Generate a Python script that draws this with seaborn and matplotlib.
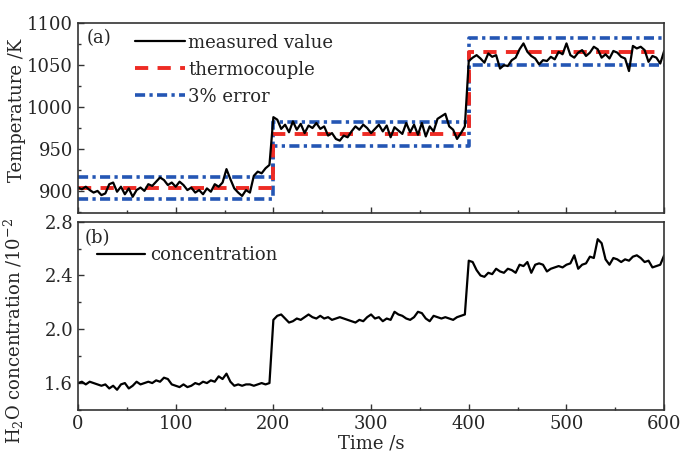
import numpy as np
import matplotlib
matplotlib.use("Agg")
import matplotlib.pyplot as plt
from matplotlib.ticker import MultipleLocator
import seaborn as sns

# sampling times of the measured series (s)
time_s = np.arange(0, 601, 4)

# measured temperature (K), three set points
temp_seg1 = [904, 902, 905, 901, 898, 900, 895, 897, 908, 910,
             899, 905, 896, 903, 893, 901, 904, 900, 908, 906,
             911, 916, 913, 907, 910, 905, 911, 907, 901, 904,
             898, 901, 896, 903, 899, 908, 905, 910, 926, 914,
             903, 898, 894, 901, 898, 918, 923, 921, 927, 931]
temp_seg2 = [988, 985, 974, 979, 970, 983, 973, 980, 969, 978,
             975, 981, 974, 977, 966, 969, 962, 960, 966, 964,
             971, 977, 973, 979, 975, 969, 974, 979, 971, 978,
             964, 976, 972, 968, 981, 970, 979, 967, 981, 965,
             977, 971, 986, 989, 992, 977, 973, 962, 969, 977]
temp_seg3 = [1055, 1059, 1062, 1058, 1053, 1064, 1060, 1062, 1046, 1050,
             1049, 1056, 1059, 1069, 1076, 1066, 1061, 1058, 1051, 1056,
             1055, 1060, 1057, 1066, 1063, 1076, 1062, 1059, 1065, 1068,
             1061, 1065, 1072, 1069, 1059, 1063, 1058, 1067, 1065, 1060,
             1058, 1043, 1073, 1070, 1072, 1068, 1054, 1061, 1059, 1052, 1067]

# H2O concentration (1e-2)
conc_seg1 = [1.60, 1.61, 1.59, 1.61, 1.60, 1.59, 1.58, 1.59, 1.56, 1.58,
             1.55, 1.59, 1.60, 1.56, 1.58, 1.61, 1.59, 1.60, 1.61, 1.60,
             1.62, 1.61, 1.64, 1.63, 1.59, 1.58, 1.57, 1.59, 1.57, 1.58,
             1.60, 1.59, 1.61, 1.60, 1.62, 1.61, 1.65, 1.63, 1.67, 1.61,
             1.58, 1.59, 1.58, 1.59, 1.59, 1.58, 1.59, 1.60, 1.59, 1.60]
conc_seg2 = [2.07, 2.10, 2.11, 2.08, 2.05, 2.06, 2.08, 2.07, 2.09, 2.11,
             2.09, 2.08, 2.10, 2.08, 2.09, 2.07, 2.08, 2.09, 2.08, 2.07,
             2.06, 2.05, 2.07, 2.06, 2.09, 2.11, 2.08, 2.09, 2.06, 2.08,
             2.07, 2.13, 2.11, 2.10, 2.08, 2.07, 2.09, 2.13, 2.12, 2.08,
             2.06, 2.10, 2.09, 2.08, 2.09, 2.08, 2.07, 2.09, 2.10, 2.11]
conc_seg3 = [2.51, 2.50, 2.44, 2.40, 2.39, 2.42, 2.41, 2.45, 2.43, 2.42,
             2.45, 2.44, 2.42, 2.48, 2.47, 2.50, 2.42, 2.48, 2.49, 2.48,
             2.43, 2.45, 2.46, 2.47, 2.46, 2.48, 2.49, 2.55, 2.45, 2.48,
             2.49, 2.54, 2.53, 2.67, 2.64, 2.52, 2.48, 2.53, 2.52, 2.50,
             2.52, 2.51, 2.54, 2.55, 2.53, 2.50, 2.51, 2.46, 2.47, 2.48, 2.55]

temperature = temp_seg1 + temp_seg2 + temp_seg3
concentration = conc_seg1 + conc_seg2 + conc_seg3

# thermocouple set points and the 3% error band
step_time = [0, 200, 400, 600]
thermo = [903.5, 967.5, 1066, 1066]
err_upper = [917, 982, 1082, 1082]
err_lower = [890, 953, 1050, 1050]

sns.set_style("ticks")
plt.rcParams["font.family"] = ["DejaVu Serif"]
plt.rcParams["mathtext.fontset"] = "dejavuserif"
plt.rcParams["font.size"] = 13

fig = plt.figure(figsize=(6.84, 4.54), dpi=100)
ax1 = fig.add_axes([0.114, 0.5315, 0.857, 0.4172])
ax2 = fig.add_axes([0.114, 0.097, 0.857, 0.4147], sharex=ax1)

blue = "#2456b4"
red = "#ee2b24"
dashdot = (0, (2.8, 1.2, 0.9, 1.2))

sns.lineplot(x=step_time, y=err_upper, ax=ax1, color=blue, lw=2.6,
             linestyle=dashdot, drawstyle="steps-post", estimator=None,
             sort=False, label="3% error")
sns.lineplot(x=step_time, y=err_lower, ax=ax1, color=blue, lw=2.6,
             linestyle=dashdot, drawstyle="steps-post", estimator=None,
             sort=False)
sns.lineplot(x=step_time, y=thermo, ax=ax1, color=red, lw=2.8,
             linestyle=(0, (3.4, 2.4)), drawstyle="steps-post",
             estimator=None, sort=False, label="thermocouple")
sns.lineplot(x=time_s, y=temperature, ax=ax1, color="black", lw=1.6,
             estimator=None, sort=False, label="measured value")

sns.lineplot(x=time_s, y=concentration, ax=ax2, color="black", lw=1.6,
             estimator=None, sort=False, label="concentration")

h, l = ax1.get_legend_handles_labels()
order = [l.index("measured value"), l.index("thermocouple"), l.index("3% error")]
ax1.legend([h[i] for i in order], [l[i] for i in order], loc="upper left",
           bbox_to_anchor=(0.097, 0.945), frameon=False, borderpad=0,
           borderaxespad=0, handlelength=2.8, handletextpad=0.15,
           labelspacing=0.5, fontsize=13)
ax2.legend(loc="upper left", bbox_to_anchor=(0.032, 0.87), frameon=False,
           borderpad=0, borderaxespad=0, handlelength=2.7,
           handletextpad=0.25, fontsize=13)

ax1.text(0.015, 0.92, "(a)", transform=ax1.transAxes, va="center", fontsize=13)
ax2.text(0.012, 0.915, "(b)", transform=ax2.transAxes, va="center", fontsize=13)

ax1.set_xlim(0, 600)
ax1.set_ylim(874, 1100)
ax1.yaxis.set_major_locator(MultipleLocator(50))
ax1.yaxis.set_minor_locator(MultipleLocator(25))
ax2.set_ylim(1.4, 2.8)
ax2.yaxis.set_major_locator(MultipleLocator(0.4))
ax2.yaxis.set_minor_locator(MultipleLocator(0.2))
ax2.xaxis.set_major_locator(MultipleLocator(100))
ax2.xaxis.set_minor_locator(MultipleLocator(50))
ax2.yaxis.set_major_formatter(plt.FormatStrFormatter("%.1f"))

for ax in (ax1, ax2):
    ax.tick_params(which="both", direction="in", top=False, right=False,
                   labelsize=13, width=1.0, color="#333333")
    ax.tick_params(which="major", length=4.5)
    ax.tick_params(which="minor", length=2.5)
    for s in ax.spines.values():
        s.set_linewidth(1.2)
        s.set_color("#333333")
ax1.tick_params(labelbottom=False)

ax1.set_ylabel("Temperature /K", fontsize=13)
ax2.set_ylabel("H$_2$O concentration /10$^{-2}$", fontsize=13)
ax2.set_xlabel("Time /s", fontsize=13, labelpad=1)
ax1.yaxis.set_label_coords(-0.088, 0.54)
ax2.yaxis.set_label_coords(-0.088, 0.42)

fig.savefig("out.png", dpi=100)
